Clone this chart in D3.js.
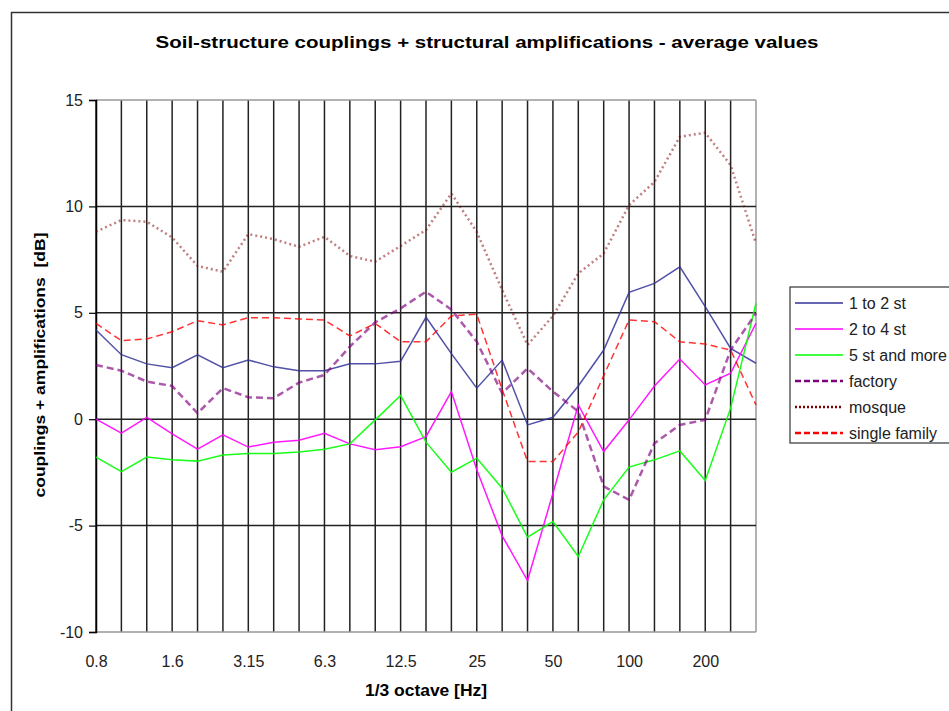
<!DOCTYPE html>
<html><head><meta charset="utf-8">
<script src="https://cdn.jsdelivr.net/npm/d3@7"></script>
<style>body{margin:0;background:#fff;}svg{display:block;font-family:"Liberation Sans",Arial,sans-serif;}</style>
</head><body>
<svg id="chart" width="949" height="711"></svg>
<script>
const categories = ["0.8","1","1.25","1.6","2","2.5","3.15","4","5","6.3","8","10","12.5","16","20","25","31.5","40","50","63","80","100","125","160","200","250","315"];
const tickLabels = ["0.8","1.6","3.15","6.3","12.5","25","50","100","200"];
const yTicks = [-10,-5,0,5,10,15];
const oneToTwo = [4.19,3.03,2.6,2.42,3.03,2.42,2.78,2.46,2.28,2.28,2.6,2.6,2.72,4.79,3.08,1.46,2.78,-0.27,0.09,1.56,3.25,5.96,6.38,7.16,5.29,3.33,2.63];
const twoToFour = [0,-0.66,0.09,-0.69,-1.41,-0.74,-1.31,-1.08,-0.99,-0.66,-1.16,-1.44,-1.29,-0.82,1.3,-2.38,-5.48,-7.58,-3.48,0.67,-1.52,-0.03,1.56,2.83,1.61,2.16,4.5];
const fiveMore = [-1.78,-2.46,-1.78,-1.91,-1.97,-1.68,-1.61,-1.61,-1.54,-1.41,-1.16,-0.03,1.11,-1.08,-2.49,-1.83,-3.24,-5.54,-4.81,-6.45,-3.79,-2.25,-1.91,-1.49,-2.88,0.52,5.45];
const factory = [2.55,2.28,1.77,1.56,0.28,1.46,1.03,0.99,1.72,2.08,3.41,4.55,5.21,5.99,5.15,3.64,1.22,2.39,1.3,0.36,-3.16,-3.79,-1.13,-0.27,-0.03,3.25,4.98];
const mosque = [8.81,9.36,9.28,8.54,7.2,6.93,8.7,8.46,8.1,8.57,7.67,7.4,8.14,8.89,10.61,8.8,6.07,3.49,4.85,6.85,7.79,10.06,11.15,13.27,13.46,11.94,8.26];
const singleFamily = [4.5,3.69,3.77,4.11,4.63,4.43,4.77,4.77,4.71,4.66,3.91,4.5,3.64,3.64,4.85,4.93,1.4,-1.99,-1.99,-0.6,2.05,4.66,4.58,3.64,3.53,3.25,0.67];

const series = [
  {name:"1 to 2 st", values:oneToTwo, color:"#333399", dash:null, width:1.5, op:0.85},
  {name:"2 to 4 st", values:twoToFour, color:"#FF00FF", dash:null, width:1.5, op:0.9},
  {name:"5 st and more", values:fiveMore, color:"#00FF00", dash:null, width:1.5, op:0.9},
  {name:"factory", values:factory, color:"#800080", dash:"7,4", width:2.5, op:0.65},
  {name:"mosque", values:mosque, color:"#800000", dash:"2,3", width:2.5, op:0.5},
  {name:"single family", values:singleFamily, color:"#FF0000", dash:"7,4", width:1.5, op:0.8}
];

const svg = d3.select("#chart");
const L=96, R=756, T=100, B=632;
const x = d3.scalePoint().domain(categories).range([L,R]);
const y = d3.scaleLinear().domain([-10,15]).range([B,T]);

// outer frame
svg.append("path").attr("d","M11.5,711 V12.5 H949").attr("fill","none").attr("stroke","#333").attr("stroke-width",1.5);

// title
svg.append("text").attr("x",487).attr("y",48).attr("text-anchor","middle")
  .attr("font-weight","bold").attr("font-size",17).attr("textLength",663).attr("lengthAdjust","spacingAndGlyphs")
  .text("Soil-structure couplings + structural amplifications - average values");

// vertical gridlines
svg.append("g").selectAll("line").data(categories).join("line")
  .attr("x1",d=>x(d)).attr("x2",d=>x(d)).attr("y1",T).attr("y2",B)
  .attr("stroke",(d,i)=> i===categories.length-1 ? "#999" : "#222").attr("stroke-width",1.5);
// horizontal gridlines
svg.append("g").selectAll("line").data(yTicks).join("line")
  .attr("x1",L).attr("x2",R).attr("y1",d=>y(d)).attr("y2",d=>y(d))
  .attr("stroke",d=> (d===15||d===-10) ? "#999" : "#222").attr("stroke-width",1.5);

// y axis
const yAxis = svg.append("g").attr("transform",`translate(${L},0)`)
  .call(d3.axisLeft(y).tickValues(yTicks).tickSize(7).tickPadding(6).tickFormat(d=>String(d)));
yAxis.select(".domain").attr("stroke","#000").attr("stroke-width",1.5);
yAxis.selectAll(".tick line").attr("stroke","#000").attr("stroke-width",1.2);
yAxis.selectAll("text").attr("font-size",16).attr("font-family","Liberation Sans, Arial, sans-serif").attr("fill","#222");

// x axis
const xAxis = svg.append("g").attr("transform",`translate(0,${B})`)
  .call(d3.axisBottom(x).tickValues(tickLabels).tickSize(0).tickPadding(20));
xAxis.select(".domain").remove();
xAxis.selectAll("text").attr("font-size",16).attr("font-family","Liberation Sans, Arial, sans-serif").attr("fill","#222")
  .attr("dy",null).attr("y",35);

// axis titles
svg.append("text").attr("x",426).attr("y",696).attr("text-anchor","middle").attr("font-weight","bold").attr("font-size",16)
  .attr("textLength",122).attr("lengthAdjust","spacingAndGlyphs")
  .text("1/3 octave [Hz]");
svg.append("text").attr("transform","translate(45,365) rotate(-90)").attr("text-anchor","middle").attr("font-weight","bold").attr("font-size",15)
  .style("white-space","pre")
  .attr("textLength",265).attr("lengthAdjust","spacingAndGlyphs")
  .text("couplings + amplifications  [dB]");

// lines
const line = d3.line().x((d,i)=>x(categories[i])).y(d=>y(d));
const g = svg.append("g");
series.forEach(s=>{
  g.append("path").datum(s.values).attr("d",line).attr("fill","none")
    .attr("stroke",s.color).attr("stroke-width",s.width).attr("stroke-opacity",s.op)
    .attr("stroke-dasharray",s.dash);
});

// legend
const lg = svg.append("g");
lg.append("rect").attr("x",790).attr("y",287).attr("width",170).attr("height",156)
  .attr("fill","#fff").attr("stroke","#333").attr("stroke-width",1.2);
series.forEach((s,i)=>{
  const yy = 303 + i*26;
  lg.append("line").attr("x1",795).attr("x2",843).attr("y1",yy).attr("y2",yy)
    .attr("stroke",s.color).attr("stroke-width",s.dash? 2.5 : 1.5).attr("stroke-dasharray",s.dash ? (s.name==="mosque"?"2,2":"6,3") : null);
  lg.append("text").attr("x",849).attr("y",yy+6).attr("font-size",16).attr("fill","#222").text(s.name);
});
</script>
</body></html>
